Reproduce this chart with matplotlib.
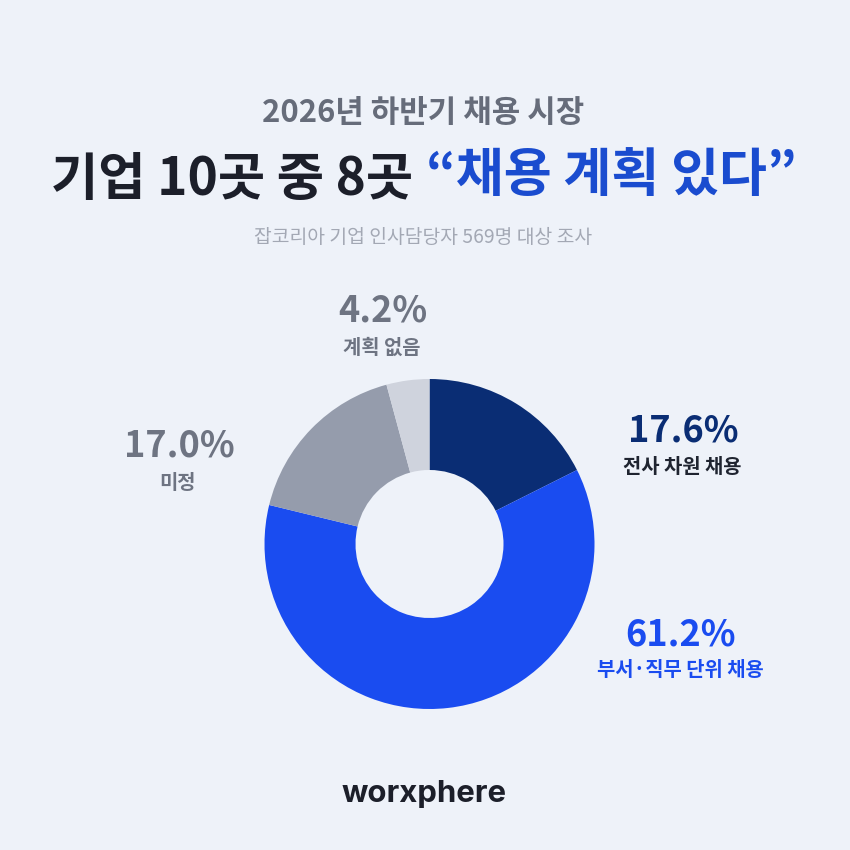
import matplotlib
matplotlib.use("Agg")
import matplotlib.pyplot as plt

plt.rcParams['font.family'] = ['Noto Sans CJK KR', 'DejaVu Sans']

# 데이터
labels = ["전사 차원 채용", "부서·직무 단위 채용", "미정", "계획 없음"]
values = [17.6, 61.2, 17.0, 4.2]
value_labels = ["17.6%", "61.2%", "17.0%", "4.2%"]
colors = ["#0a2d74", "#1a4cf0", "#959cac", "#cfd3dd"]
text_colors = ["#0a2d74", "#1a4cf0", "#6e7482", "#6e7482"]
sub_colors = ["#1f2430", "#1a4cf0", "#6e7482", "#6e7482"]

# 라벨 위치 (픽셀, 가운데 기준)
value_xy = [(683, 431), (681, 635), (179, 446), (383, 311)]
label_xy = [(682, 466), (680, 670), (178, 482), (382, 347)]

bg = "#eef2f9"
fig = plt.figure(figsize=(8.5, 8.5), dpi=100, facecolor=bg)

# 전체를 덮는 축: 글자는 픽셀 좌표로 배치
ax_text = fig.add_axes([0, 0, 1, 1])
ax_text.set_xlim(0, 850)
ax_text.set_ylim(850, 0)
ax_text.axis("off")

# 도넛
cx, cy, r = 429.5, 544, 165
ax = fig.add_axes([(cx - r) / 850, 1 - (cy + r) / 850, 2 * r / 850, 2 * r / 850])
ax.pie(values, colors=colors, startangle=90, counterclock=False, radius=1,
       wedgeprops=dict(width=1 - 74 / 165, linewidth=0))
ax.set_xlim(-1, 1)
ax.set_ylim(-1, 1)

# 제목
ax_text.text(423, 113, "2026년 하반기 채용 시장", ha="center", va="center",
             fontsize=22.3, fontweight="bold", color="#666c7a")
ax_text.text(232, 179, "기업 10곳 중 8곳", ha="center", va="center",
             fontsize=37, fontweight="black", color="#1c1f2a")
ax_text.text(611, 175, "“채용 계획 있다”", ha="center", va="center",
             fontsize=37.5, fontweight="black", color="#1a4ccf")
ax_text.text(423, 237, "잡코리아 기업 인사담당자 569명 대상 조사", ha="center", va="center",
             fontsize=13.9, fontweight="medium", color="#a3a8b4")

# 라벨
for i in range(len(labels)):
    ax_text.text(value_xy[i][0], value_xy[i][1], value_labels[i], ha="center", va="center",
                 fontsize=26, fontweight="black", color=text_colors[i])
    ax_text.text(label_xy[i][0], label_xy[i][1], labels[i], ha="center", va="center",
                 fontsize=14.3, fontweight="bold", color=sub_colors[i])

# 로고
ax_text.text(424, 794, "worxphere", ha="center", va="center", family="Inter",
             fontsize=22.4, fontweight="bold", color="#1c1f2a")

fig.savefig("out.png", dpi=100, facecolor=bg)
